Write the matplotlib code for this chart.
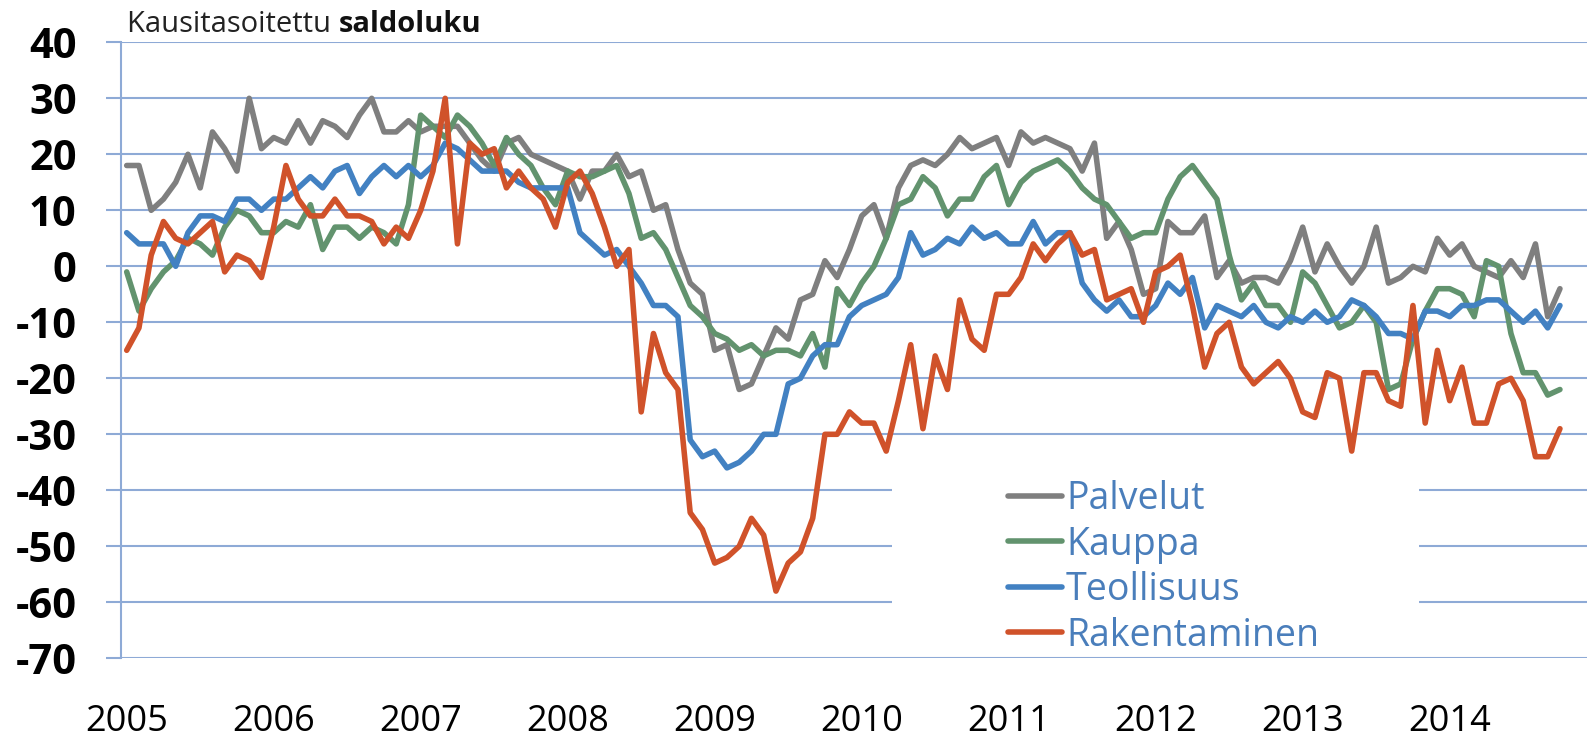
import numpy as np
import matplotlib
matplotlib.use("Agg")
import matplotlib.pyplot as plt
from matplotlib.patches import Rectangle

plt.rcParams['font.family'] = ['Open Sans', 'DejaVu Sans']

# Monthly data, Jan 2005 .. Oct 2014
years = ['2005', '2006', '2007', '2008', '2009', '2010', '2011', '2012', '2013', '2014']

palvelut = [18, 18, 10, 12, 15, 20, 14, 24, 21, 17, 30, 21, 23, 22, 26, 22, 26,
            25, 23, 27, 30, 24, 24, 26, 24, 25, 25, 25, 22, 19, 17, 22, 23,
            20, 19, 18, 17, 12, 17, 17, 20, 16, 17, 10, 11, 3, -3, -5, -15, -14,
            -22, -21, -16, -11, -13, -6, -5, 1, -2, 3, 9, 11, 5, 14, 18, 19,
            18, 20, 23, 21, 22, 23, 18, 24, 22, 23, 22, 21, 17, 22, 5, 8,
            3, -5, -4, 8, 6, 6, 9, -2, 1, -3, -2, -2, -3, 1, 7, -1, 4,
            0, -3, 0, 7, -3, -2, 0, -1, 5, 2, 4, 0, -1, -2, 1, -2, 4, -9, -4]

kauppa = [-1, -8, -4, -1, 1, 5, 4, 2, 7, 10, 9, 6, 6, 8, 7, 11, 3,
          7, 7, 5, 7, 6, 4, 11, 27, 25, 23, 27, 25, 22, 18, 23, 20,
          18, 14, 11, 17, 16, 16, 17, 18, 13, 5, 6, 3, -2, -7, -9, -12, -13,
          -15, -14, -16, -15, -15, -16, -12, -18, -4, -7, -3, 0, 5, 11, 12, 16,
          14, 9, 12, 12, 16, 18, 11, 15, 17, 18, 19, 17, 14, 12, 11, 8,
          5, 6, 6, 12, 16, 18, 15, 12, 2, -6, -3, -7, -7, -10, -1, -3, -7,
          -11, -10, -7, -10, -22, -21, -13, -8, -4, -4, -5, -9, 1, 0, -12, -19, -19, -23, -22]

teollisuus = [6, 4, 4, 4, 0, 6, 9, 9, 8, 12, 12, 10, 12, 12, 14, 16, 14,
              17, 18, 13, 16, 18, 16, 18, 16, 18, 22, 21, 19, 17, 17, 17, 15,
              14, 14, 14, 14, 6, 4, 2, 3, 0, -3, -7, -7, -9, -31, -34, -33, -36,
              -35, -33, -30, -30, -21, -20, -16, -14, -14, -9, -7, -6, -5, -2, 6, 2,
              3, 5, 4, 7, 5, 6, 4, 4, 8, 4, 6, 6, -3, -6, -8, -6,
              -9, -9, -7, -3, -5, -2, -11, -7, -8, -9, -7, -10, -11, -9, -10, -8, -10,
              -9, -6, -7, -9, -12, -12, -13, -8, -8, -9, -7, -7, -6, -6, -8, -10, -8, -11, -7]

rakentaminen = [-15, -11, 2, 8, 5, 4, 6, 8, -1, 2, 1, -2, 7, 18, 12, 9, 9,
                12, 9, 9, 8, 4, 7, 5, 10, 17, 30, 4, 22, 20, 21, 14, 17,
                14, 12, 7, 15, 17, 13, 7, 0, 3, -26, -12, -19, -22, -44, -47, -53, -52,
                -50, -45, -48, -58, -53, -51, -45, -30, -30, -26, -28, -28, -33, -24, -14, -29,
                -16, -22, -6, -13, -15, -5, -5, -2, 4, 1, 4, 6, 2, 3, -6, -5,
                -4, -10, -1, 0, 2, -7, -18, -12, -10, -18, -21, -19, -17, -20, -26, -27, -19,
                -20, -33, -19, -19, -24, -25, -7, -28, -15, -24, -18, -28, -28, -21, -20, -24, -34, -34, -29]

series_names = ['Palvelut', 'Kauppa', 'Teollisuus', 'Rakentaminen']
series_values = [palvelut, kauppa, teollisuus, rakentaminen]
series_colors = ['#7F7F7F', '#62936E', '#4281C2', '#D0522A']

y_ticks = [40, 30, 20, 10, 0, -10, -20, -30, -40, -50, -60, -70]

W, H = 1589, 740
fig = plt.figure(figsize=(W / 100, H / 100), dpi=100)
ax = fig.add_axes([121 / W, 1 - 658.3 / H, (1587 - 121) / W, (658.3 - 42.3) / H])

x = np.arange(len(palvelut))
for name, vals, col in zip(series_names, series_values, series_colors):
    ax.plot(x, vals, color=col, lw=4.0, label=name,
            solid_joinstyle='round', solid_capstyle='round', zorder=2)

grid_col = '#8EAAD6'
ax.set_ylim(-70, 40)
ax.set_xlim(-(126.7 - 121) / 12.25, (1587 - 126.7) / 12.25)
ax.set_yticks(y_ticks)
ax.set_yticklabels([str(v) for v in y_ticks], fontsize=30, fontweight='bold')
ax.set_xticks([12 * k for k in range(len(years))])
ax.set_xticklabels(years, fontsize=26)
ax.tick_params(axis='x', length=0, pad=33)
ax.tick_params(axis='y', length=11, width=1.5, color=grid_col, pad=21)
ax.set_axisbelow(True)
ax.grid(axis='y', color=grid_col, lw=1.5)
for s in ['top', 'right', 'bottom']:
    ax.spines[s].set_visible(False)
ax.spines['left'].set_color(grid_col)
ax.spines['left'].set_linewidth(1.5)

# white box behind legend (hides gridlines)
ax.add_patch(Rectangle((892 / W, 1 - 642 / H), (1419 - 892) / W, (642 - 455) / H,
                       transform=fig.transFigure, facecolor='white', edgecolor='none',
                       zorder=1, clip_on=False))

leg = ax.legend(loc='upper left', bbox_to_anchor=(1008 / W, 1 - 480 / H),
                bbox_transform=fig.transFigure, frameon=False, fontsize=27,
                handlelength=1.45, handletextpad=0.1, labelspacing=0.2,
                borderpad=0, borderaxespad=0, labelcolor='#4A7EBB')
for h in leg.get_lines():
    h.set_linewidth(4.0)

t1 = fig.text(127 / W, 1 - 32 / H, 'Kausitasoitettu ', fontsize=21, va='baseline', ha='left',
              color='#222222')
ax.annotate('saldoluku', xy=(1, 0), xycoords=t1, va='bottom', ha='left', fontsize=21,
            fontweight='bold', color='#111111', annotation_clip=False)

fig.savefig('out.png', dpi=100)
